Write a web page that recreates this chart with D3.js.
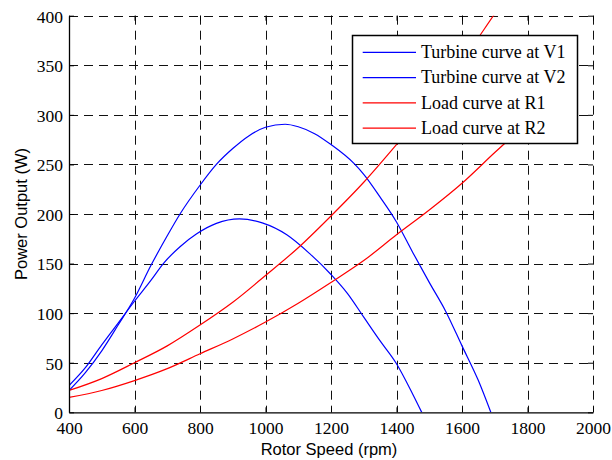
<!DOCTYPE html>
<html>
<head>
<meta charset="utf-8">
<script src="https://cdn.jsdelivr.net/npm/d3@7"></script>
<style>
  html, body { margin: 0; padding: 0; background: #fff; }
  svg { display: block; }
</style>
</head>
<body>
<svg id="chart" width="612" height="460"></svg>
<script>
// ---- Data ----
const xTicks = [400, 600, 800, 1000, 1200, 1400, 1600, 1800, 2000];
const yTicks = [0, 50, 100, 150, 200, 250, 300, 350, 400];

const rpmV1   = [400, 450, 500, 550, 600, 650, 700, 739, 800, 850, 900, 950, 1000, 1060, 1100, 1150, 1200, 1270, 1300, 1350, 1400, 1450, 1500, 1550, 1600, 1650, 1688];
const powerV1 = [22, 40, 62, 88, 115, 148, 178, 200, 229, 250, 266, 279, 287.5, 290.5, 288, 281, 270, 251, 240, 217, 192, 161, 131, 102, 67, 32, 0];

const rpmV2   = [400, 450, 500, 550, 600, 650, 688, 739, 790, 850, 920, 990, 1065, 1135, 1200, 1250, 1300, 1350, 1400, 1450, 1477];
const powerV2 = [27, 45, 68, 90, 112, 133, 150, 167, 180, 190.5, 195, 191, 179, 160, 139, 120, 96, 72, 49, 18, 0];

const rpmR1   = [400, 500, 600, 700, 800, 900, 1000, 1100, 1200, 1300, 1400, 1500, 1600, 1700, 1800];
const powerR1 = [22, 34, 50, 67, 88, 111, 138, 166, 198, 232, 270, 310, 354, 402, 450];

const rpmR2   = [400, 500, 600, 700, 800, 900, 1000, 1100, 1200, 1300, 1400, 1500, 1600, 1700, 1800];
const powerR2 = [15, 22, 32, 44, 59, 74, 91, 110, 131, 153, 179, 204, 231, 262, 292];

const seriesNames  = ["Turbine curve at V1", "Turbine curve at V2", "Load curve at R1", "Load curve at R2"];
const seriesColors = ["#0000ff", "#0000ff", "#ff0000", "#ff0000"];

const xTitle = "Rotor Speed (rpm)";
const yTitle = "Power Output (W)";

// ---- Layout ----
const svg = d3.select("#chart");
const pL = 69, pR = 593, pT = 15.7, pB = 412.3;

const x = d3.scaleLinear().domain([400, 2000]).range([pL, pR]);
const y = d3.scaleLinear().domain([0, 400]).range([pB, pT]);

svg.append("rect").attr("width", 612).attr("height", 460).attr("fill", "#fff");

svg.append("defs").append("clipPath").attr("id", "plotclip")
  .append("rect").attr("x", pL).attr("y", pT)
  .attr("width", pR - pL).attr("height", pB - pT);

// grid
const grid = svg.append("g").attr("stroke", "#111").attr("stroke-width", 1)
  .attr("stroke-dasharray", "9,6").attr("fill", "none");
grid.selectAll("line.gx").data(xTicks.filter(d => d !== 400)).join("line")
  .attr("class", "gx")
  .attr("x1", d => Math.round(x(d)) + 0.5).attr("x2", d => Math.round(x(d)) + 0.5)
  .attr("y1", pT).attr("y2", pB);
grid.selectAll("line.gy").data(yTicks.filter(d => d !== 0)).join("line")
  .attr("class", "gy")
  .attr("y1", d => Math.round(y(d)) + 0.5).attr("y2", d => Math.round(y(d)) + 0.5)
  .attr("x1", pL).attr("x2", pR);

// series
const allSeries = [
  [rpmV1, powerV1], [rpmV2, powerV2], [rpmR1, powerR1], [rpmR2, powerR2]
];
const line = d3.line().x(d => x(d[0])).y(d => y(d[1])).curve(d3.curveMonotoneX);
const plot = svg.append("g").attr("clip-path", "url(#plotclip)");
allSeries.forEach((s, i) => {
  const pts = s[0].map((r, j) => [r, s[1][j]]);
  plot.append("path").datum(pts)
    .attr("d", line)
    .attr("fill", "none")
    .attr("stroke", seriesColors[i])
    .attr("stroke-width", 1.2);
});

// axes (ticks inward)
const tickFont = "'Liberation Serif', 'Times New Roman', serif";
const xAxis = svg.append("g").attr("transform", `translate(0,${pB})`)
  .call(d3.axisBottom(x).tickValues(xTicks).tickSizeInner(-5).tickSizeOuter(0).tickPadding(9).tickFormat(d3.format("d")));
const yAxis = svg.append("g").attr("transform", `translate(${pL},0)`)
  .call(d3.axisLeft(y).tickValues(yTicks).tickSizeInner(-5).tickSizeOuter(0).tickPadding(6).tickFormat(d3.format("d")));
const xAxisTop = svg.append("g").attr("transform", `translate(0,${pT})`)
  .call(d3.axisTop(x).tickValues(xTicks).tickSizeInner(-5).tickSizeOuter(0).tickFormat(""));
const yAxisRight = svg.append("g").attr("transform", `translate(${pR},0)`)
  .call(d3.axisRight(y).tickValues(yTicks).tickSizeInner(-5).tickSizeOuter(0).tickFormat(""));
xAxisTop.select(".domain").remove();
yAxisRight.select(".domain").remove();

[xAxis, yAxis, xAxisTop, yAxisRight].forEach(g => {
  g.selectAll(".tick line").attr("stroke", "#000").attr("stroke-width", 1);
  g.selectAll(".domain").attr("stroke", "#000").attr("stroke-width", 1.3);
  g.selectAll("text").attr("font-family", tickFont).attr("font-size", 17.5).attr("fill", "#000");
});
yAxis.selectAll(".tick text").attr("dy", "0.36em");

// axis titles
svg.append("text")
  .attr("x", (pL + pR) / 2 - 2).attr("y", 455)
  .attr("text-anchor", "middle")
  .attr("font-family", "'Liberation Sans', Arial, sans-serif")
  .attr("font-size", 16.5)
  .text(xTitle);
svg.append("text")
  .attr("transform", `translate(26.5,${(pT + pB) / 2}) rotate(-90)`)
  .attr("text-anchor", "middle")
  .attr("font-family", "'Liberation Sans', Arial, sans-serif")
  .attr("font-size", 16.5)
  .text(yTitle);

// legend
const lg = svg.append("g");
lg.append("rect").attr("x", 352.5).attr("y", 35.5).attr("width", 225).attr("height", 108)
  .attr("fill", "#fff").attr("stroke", "#000").attr("stroke-width", 1.5);
seriesNames.forEach((name, i) => {
  const ly = 52.3 + i * 25.3;
  lg.append("line").attr("x1", 362.7).attr("x2", 416).attr("y1", ly).attr("y2", ly)
    .attr("stroke", seriesColors[i]).attr("stroke-width", 1.2);
  lg.append("text").attr("x", 421).attr("y", ly + 5.6)
    .attr("font-family", tickFont).attr("font-size", 18).attr("fill", "#000")
    .text(name);
});
</script>
</body>
</html>
